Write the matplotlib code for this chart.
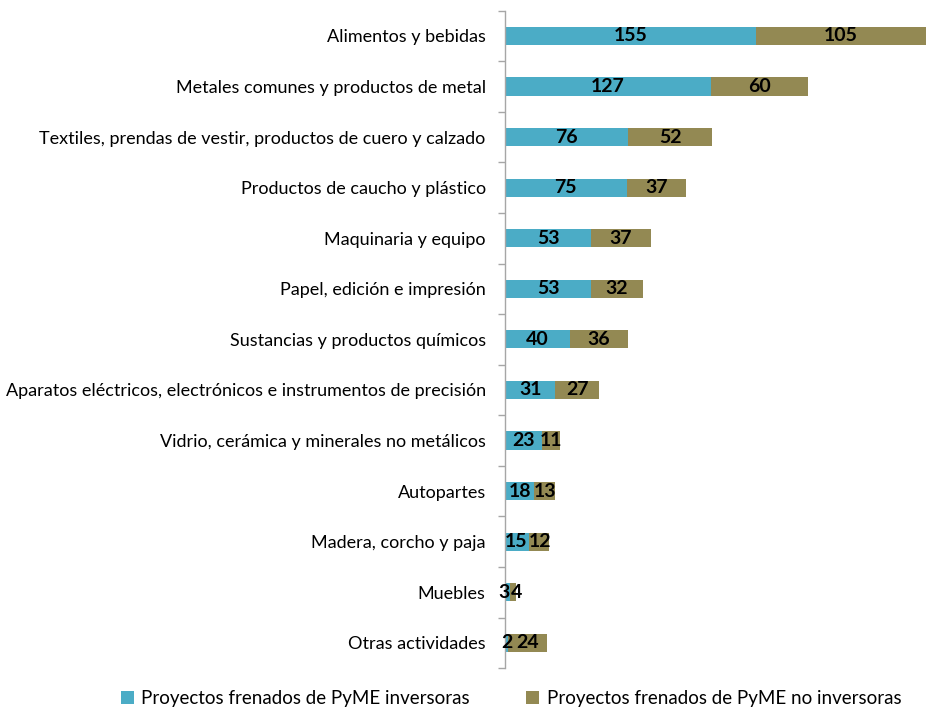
import matplotlib.pyplot as plt
from matplotlib.patches import Patch

categories = [
    "Alimentos y bebidas",
    "Metales comunes y productos de metal",
    "Textiles, prendas de vestir, productos de cuero y calzado",
    "Productos de caucho y plástico",
    "Maquinaria y equipo",
    "Papel, edición e impresión",
    "Sustancias y productos químicos",
    "Aparatos eléctricos, electrónicos e instrumentos de precisión",
    "Vidrio, cerámica y minerales no metálicos",
    "Autopartes",
    "Madera, corcho y paja",
    "Muebles",
    "Otras actividades",
]
inversoras = [155, 127, 76, 75, 53, 53, 40, 31, 23, 18, 15, 3, 2]
no_inversoras = [105, 60, 52, 37, 37, 32, 36, 27, 11, 13, 12, 4, 24]
series_names = ["Proyectos frenados de PyME inversoras",
                "Proyectos frenados de PyME no inversoras"]

blue = "#4BACC6"
olive = "#938953"

plt.rcParams['font.family'] = ['Lato', 'DejaVu Sans']

fig = plt.figure(figsize=(9.26, 7.13), dpi=100)
ax = fig.add_axes([0.5455, 0.063, 0.4545, 0.922])

y = list(range(len(categories)))
h = 0.36
ax.barh(y, inversoras, height=h, color=blue)
ax.barh(y, no_inversoras, left=inversoras, height=h, color=olive)

ax.set_xlim(0, 260)
ax.set_ylim(len(categories) - 0.5, -0.5)

# value labels centred in each segment; nudge pairs apart when they collide
label_kw = dict(ha="center", va="center", fontsize=14,
                fontweight="bold", color="black")
pairs = []
for yi, a, b in zip(y, inversoras, no_inversoras):
    t1 = ax.text(a / 2, yi, str(a), **label_kw)
    t2 = ax.text(a + b / 2, yi, str(b), **label_kw)
    pairs.append((t1, t2))

fig.canvas.draw()
renderer = fig.canvas.get_renderer()
inv = ax.transData.inverted()
for t1, t2 in pairs:
    e1 = t1.get_window_extent(renderer)
    e2 = t2.get_window_extent(renderer)
    overlap = e1.x1 - e2.x0 + 1.5
    if overlap > 0:
        shift = inv.transform((overlap / 2, 0))[0] - inv.transform((0, 0))[0]
        x1, y1 = t1.get_position()
        x2, y2 = t2.get_position()
        t1.set_position((x1 - shift, y1))
        t2.set_position((x2 + shift, y2))

ax.set_yticks(y)
ax.set_yticklabels(categories, fontsize=13)
ax.tick_params(axis="y", which="major", length=0, pad=14)
ax.set_yticks([i - 0.5 for i in range(len(categories) + 1)], minor=True)
ax.tick_params(axis="y", which="minor", length=5, color="#A6A6A6", width=1)
ax.set_xticks([])
for s in ["top", "right", "bottom"]:
    ax.spines[s].set_visible(False)
ax.spines["left"].set_color("#A6A6A6")
ax.spines["left"].set_linewidth(1)

handles = [Patch(facecolor=blue, edgecolor="none"),
           Patch(facecolor=olive, edgecolor="none")]
fig.legend(handles, series_names, loc="lower center",
           bbox_to_anchor=(0.552, -0.015), ncol=2, frameon=False,
           fontsize=13.5, handlelength=0.7, handleheight=0.7,
           handletextpad=0.4, columnspacing=3.0)

fig.savefig("out.png", dpi=100)
